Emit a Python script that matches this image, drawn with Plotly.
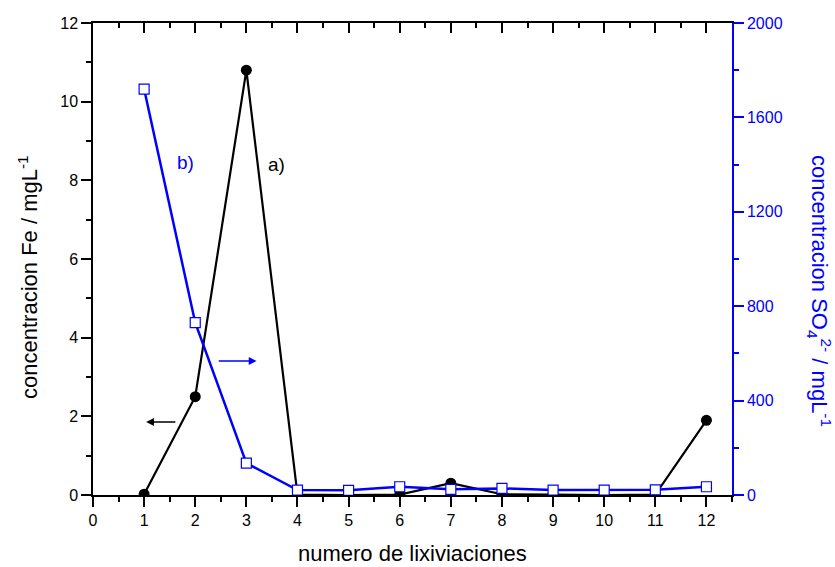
import plotly.graph_objects as go

leach = [1, 2, 3, 4, 5, 6, 7, 8, 9, 10, 11, 12]
fe = [0.02, 2.5, 10.8, 0.01, 0.0, 0.01, 0.3, 0.02, 0.01, 0.0, 0.01, 1.9]
so4 = [1720, 730, 135, 21, 20, 35, 24, 28, 21, 21, 22, 35]

x_ticks = list(range(0, 13))
fe_ticks = [0, 2, 4, 6, 8, 10, 12]
so4_ticks = [0, 400, 800, 1200, 1600, 2000]

BLUE = "#0000FF"
FONT = "Liberation Sans, Arial, sans-serif"

fig = go.Figure()
fig.add_trace(go.Scatter(
    x=leach, y=fe, mode="lines+markers", xaxis="x", yaxis="y",
    line=dict(color="black", width=2.2),
    marker=dict(symbol="circle", size=11, color="black"),
    showlegend=False,
))
fig.add_trace(go.Scatter(
    x=leach, y=so4, mode="lines+markers", xaxis="x", yaxis="y2",
    line=dict(color=BLUE, width=2.5),
    marker=dict(symbol="square", size=10, color="white",
                line=dict(color=BLUE, width=1.2)),
    showlegend=False,
))
# invisible trace to host the top mirror axis
fig.add_trace(go.Scatter(x=[0], y=[0], xaxis="x2", yaxis="y", mode="markers",
                         marker=dict(opacity=0), hoverinfo="skip", showlegend=False))

fig.update_layout(
    width=835, height=567,
    margin=dict(l=93, r=103, t=23, b=72),
    paper_bgcolor="white", plot_bgcolor="white",
    font=dict(family=FONT, size=16, color="black"),
    xaxis=dict(range=[0, 12.5], tickvals=x_ticks, ticktext=[str(v) for v in x_ticks],
               showgrid=False, zeroline=False, showline=True, linecolor="black", linewidth=1.5,
               ticks="outside", ticklen=10, tickwidth=1.5, tickcolor="black",
               minor=dict(dtick=0.5, tick0=0, ticks="outside", ticklen=5, tickwidth=1.5, tickcolor="black"),
               tickfont=dict(size=16, color="black")),
    xaxis2=dict(range=[0, 12.5], overlaying="x", side="top", anchor="y", matches="x",
                tickvals=x_ticks, showticklabels=False,
                showgrid=False, zeroline=False, showline=True, linecolor="black", linewidth=1.5,
                ticks="inside", ticklen=10, tickwidth=1.5, tickcolor="black",
                minor=dict(dtick=0.5, tick0=0, ticks="inside", ticklen=5, tickwidth=1.5, tickcolor="black")),
    yaxis=dict(range=[0, 12], tickvals=fe_ticks, ticktext=[str(v) for v in fe_ticks],
               showgrid=False, zeroline=False, showline=True, linecolor="black", linewidth=1.5,
               ticks="outside", ticklen=10, tickwidth=1.5, tickcolor="black",
               minor=dict(dtick=1, tick0=0, ticks="outside", ticklen=5, tickwidth=1.5, tickcolor="black"),
               tickfont=dict(size=16, color="black")),
    yaxis2=dict(range=[0, 2000], overlaying="y", side="right", anchor="x",
                tickvals=so4_ticks, ticktext=[str(v) for v in so4_ticks],
                showgrid=False, zeroline=False, showline=True, linecolor=BLUE, linewidth=1.5,
                ticks="outside", ticklen=10, tickwidth=1.5, tickcolor=BLUE,
                minor=dict(dtick=200, tick0=0, ticks="outside", ticklen=5, tickwidth=1.5, tickcolor=BLUE),
                tickfont=dict(size=16, color=BLUE)),
)

annotations = [
    dict(text="numero de lixiviaciones", xref="paper", yref="paper", x=0.5, y=-0.1229,
         showarrow=False, font=dict(size=22, color="black"), xanchor="center", yanchor="middle"),
    dict(text="concentracion Fe / mgL<sup>-1</sup>", xref="paper", yref="paper", x=-0.1017, y=0.462,
         textangle=-90, showarrow=False, font=dict(size=22, color="black"),
         xanchor="center", yanchor="middle"),
    dict(text="concentracion SO<sub>4</sub><sup>2-</sup> / mgL<sup>-1</sup>", xref="paper", yref="paper",
         x=1.1377, y=0.432, textangle=90, showarrow=False, font=dict(size=22, color=BLUE),
         xanchor="center", yanchor="middle"),
    dict(text="b)", xref="x", yref="y", x=1.81, y=8.45, showarrow=False,
         font=dict(size=19, color=BLUE)),
    dict(text="a)", xref="x", yref="y", x=3.58, y=8.4, showarrow=False,
         font=dict(size=19, color="black")),
    dict(text="", xref="x", yref="y", x=1.04, y=1.856, ax=1.64, ay=1.856, axref="x", ayref="y",
         showarrow=True, arrowhead=2, arrowsize=1.2, arrowwidth=1.3, arrowcolor="black"),
    dict(text="", xref="x", yref="y", x=3.2, y=3.407, ax=2.43, ay=3.407, axref="x", ayref="y",
         showarrow=True, arrowhead=2, arrowsize=1.2, arrowwidth=1.3, arrowcolor=BLUE),
]
fig.update_layout(annotations=annotations)

fig.write_html("out.html")
